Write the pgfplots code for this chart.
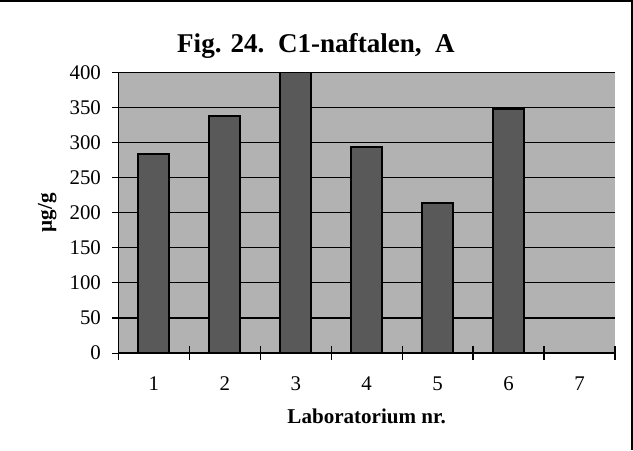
\documentclass[border=0pt]{standalone}
\usepackage{fontspec}
\setmainfont{Liberation Serif}
\usepackage{pgfplots}
\pgfplotsset{compat=1.18}

\begin{document}
\begin{tikzpicture}
\begin{axis}[
  at={(0,0)}, anchor=south west,
  scale only axis,
  width=247.5pt, height=140pt,
  xmin=0.5, xmax=7.5,
  ymin=0, ymax=400,
  axis x line=bottom, axis y line=left,
  axis line style={-, line width=0.8pt, black},
  axis background/.style={fill=black!30},
  xtick={1,...,7},
  minor xtick={0.5,1.5,...,7.5},
  major x tick style={draw=none},
  ytick={0,50,...,400},
  tick align=center,
  major tick length=6pt,
  minor tick length=7pt,
  tick style={black, line width=0.6pt},
  ymajorgrids,
  grid style={black, line width=0.6pt},
  /pgf/number format/assume math mode=true,
  tick label style={font=\fontsize{10.4}{12}\selectfont},
  yticklabel style={anchor=east, inner sep=0pt, xshift=-5.5pt},
  xticklabel style={anchor=north, inner sep=0pt, yshift=-8.5pt},
  xlabel={Laboratorium nr.},
  xlabel style={font=\bfseries\fontsize{10.5}{12}\selectfont, at={(rel axis cs:0.5,0)}, anchor=base, yshift=-35pt, inner sep=0pt},
  ylabel={µg/g},
  ylabel style={font=\bfseries\fontsize{10.5}{12}\selectfont, at={(rel axis cs:0,0.5)}, anchor=center, yshift=35.5pt, inner sep=0pt},
  clip=true,
]
% bar values (lab 7 has no result)
\addplot[ybar, bar width=15.5pt, fill=black!65, draw=black, line width=1pt]
  coordinates {(1,283) (2,337) (3,400) (4,293) (5,214) (6,347)};
\end{axis}
% title, centred over the whole frame
\node[font=\bfseries\fontsize{13.5}{16}\selectfont, anchor=base] at (98.5pt,150pt)
  {Fig. 24.\ \ C1-naftalen,\ \ A};
% frame: only top and right edge are drawn
\draw[line width=1pt] (-59pt,175.5pt) -- (256pt,175.5pt) -- (256pt,-48.5pt);
\pgfresetboundingbox
\path (-59pt,-48.5pt) rectangle (256.5pt,176pt);
\end{tikzpicture}
\end{document}
